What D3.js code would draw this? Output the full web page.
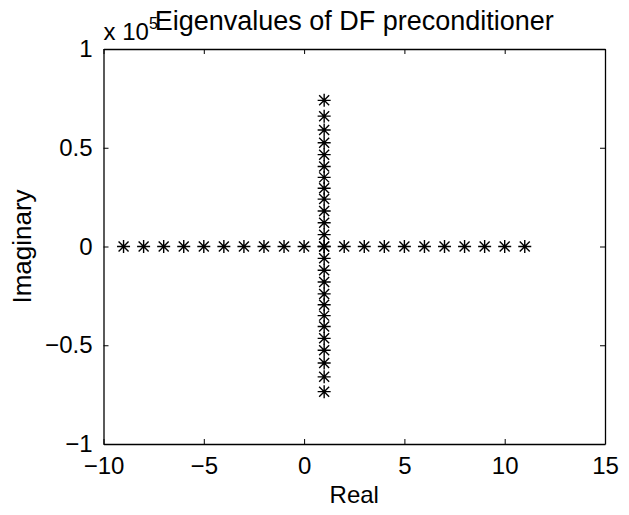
<!DOCTYPE html>
<html>
<head>
<meta charset="utf-8">
<script src="https://cdn.jsdelivr.net/npm/d3@7"></script>
<style>
  body { margin: 0; background: #fff; }
  svg text { font-family: "Liberation Sans", Arial, Helvetica, sans-serif; fill: #000; }
</style>
</head>
<body>
<svg id="chart" width="629" height="515"></svg>
<script>
// eigenvalues, real part on the horizontal arm (imag = 0)
const realArm = [-9, -8, -7, -6, -5, -4, -3, -2, -1, 0, 1, 2, 3, 4, 5, 6, 7, 8, 9, 10, 11];
// vertical arm at real = 1, imaginary parts in units of 1e5
const imagArm = [0.74, 0.66, 0.59, 0.525, 0.465, 0.405, 0.35, 0.295, 0.24, 0.18, 0.12, 0.06, 0,
                 -0.06, -0.12, -0.18, -0.24, -0.295, -0.35, -0.405, -0.465, -0.525, -0.59, -0.66, -0.735];
const xTicks = [-10, -5, 0, 5, 10, 15];
const yTicks = [-1, -0.5, 0, 0.5, 1];

const svg = d3.select('#chart');
const mLeft = 103.5, mRight = 605, mTop = 49, mBottom = 444;

const x = d3.scaleLinear().domain([-10, 15]).range([mLeft, mRight]);
const y = d3.scaleLinear().domain([-1, 1]).range([mBottom, mTop]);

const fmt = d => (d < 0 ? '\u2212' : '') + Math.abs(d);

// axes - matlab style, ticks pointing inward on all four sides
svg.append('g').attr('transform', `translate(0,${mBottom})`)
    .call(d3.axisBottom(x).tickValues(xTicks).tickSizeInner(-5).tickSizeOuter(0).tickPadding(13).tickFormat(fmt));
svg.append('g').attr('transform', `translate(0,${mTop})`)
    .call(d3.axisTop(x).tickValues(xTicks).tickSizeInner(-5).tickSizeOuter(0).tickFormat(''));
svg.append('g').attr('transform', `translate(${mLeft},0)`)
    .call(d3.axisLeft(y).tickValues(yTicks).tickSizeInner(-5).tickSizeOuter(0).tickPadding(11).tickFormat(fmt));
svg.append('g').attr('transform', `translate(${mRight},0)`)
    .call(d3.axisRight(y).tickValues(yTicks).tickSizeInner(-5).tickSizeOuter(0).tickFormat(''));

svg.selectAll('.domain').attr('stroke', '#000').attr('stroke-width', 1.3);
svg.selectAll('.tick line').attr('stroke', '#000');
svg.selectAll('.tick text').attr('font-size', 24).attr('fill', '#000')
    .style('font-family', '"Liberation Sans", Arial, sans-serif');

// star markers (+ and x overlaid)
const points = realArm.map(r => [r, 0]).concat(imagArm.map(v => [1, v]));
const s = 6.5, k = 5;
const starPath = `M${-s},0H${s}M0,${-s}V${s}M${-k},${-k}L${k},${k}M${-k},${k}L${k},${-k}`;
svg.append('g').selectAll('path')
    .data(points)
    .enter().append('path')
    .attr('transform', d => `translate(${x(d[0])},${y(d[1])})`)
    .attr('d', starPath)
    .attr('fill', 'none')
    .attr('stroke', '#000')
    .attr('stroke-width', 1.4);

// labels
svg.append('text')
    .attr('x', (mLeft + mRight) / 2).attr('y', 30)
    .attr('text-anchor', 'middle').attr('font-size', 27)
    .text('Eigenvalues of DF preconditioner');

const mult = svg.append('text').attr('x', mLeft).attr('y', 40).attr('font-size', 24);
mult.append('tspan').text('x 10');
mult.append('tspan').attr('dy', -11).attr('font-size', 16).text('5');

svg.append('text')
    .attr('x', (mLeft + mRight) / 2).attr('y', 503)
    .attr('text-anchor', 'middle').attr('font-size', 24)
    .text('Real');

svg.append('text')
    .attr('transform', `translate(31,${(mTop + mBottom) / 2}) rotate(-90)`)
    .attr('text-anchor', 'middle').attr('font-size', 26)
    .text('Imaginary');
</script>
</body>
</html>
